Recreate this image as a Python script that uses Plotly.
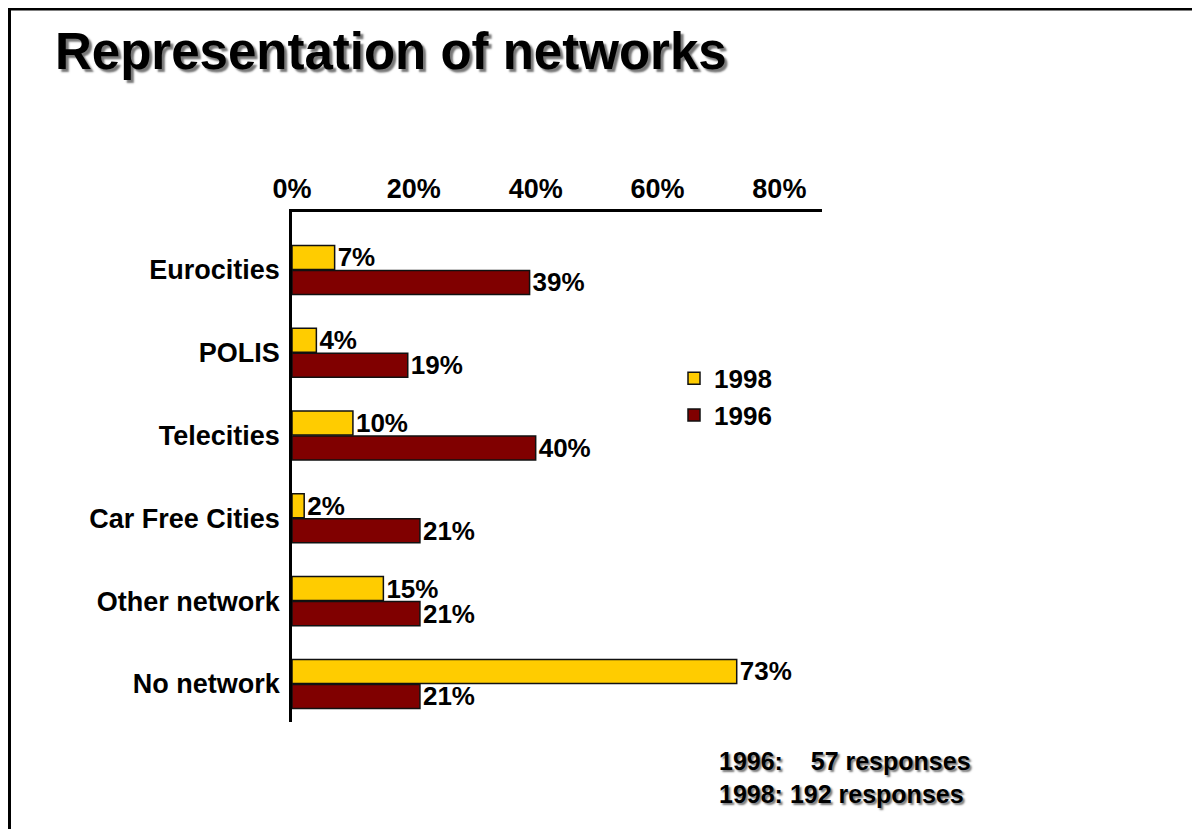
import plotly.graph_objects as go

categories = ["Eurocities", "POLIS", "Telecities", "Car Free Cities", "Other network", "No network"]
values_1998 = [0.07, 0.04, 0.10, 0.02, 0.15, 0.73]
values_1996 = [0.39, 0.19, 0.40, 0.21, 0.21, 0.21]
series_names = ["1998", "1996"]
x_ticks = [0, 0.2, 0.4, 0.6, 0.8]
title_text = "Representation of networks"
note_lines = ["1996:\u00a0\u00a0\u00a0 57 responses", "1998: 192 responses"]

FONT = "Liberation Sans, Arial, sans-serif"
YELLOW = "#FFCC00"
DARKRED = "#800000"

fig = go.Figure()
for name, vals, col in [(series_names[0], values_1998, YELLOW), (series_names[1], values_1996, DARKRED)]:
    fig.add_trace(go.Bar(
        name=name, y=categories, x=vals, orientation="h",
        marker=dict(color=col, line=dict(color="#111111", width=1.5)),
        text=[f"{v*100:.0f}%" for v in vals], textposition="outside",
        constraintext="none",
        textfont=dict(family=FONT, size=26, color="black", weight="bold"),
        cliponaxis=False,
    ))

W, H = 1192, 821
fig.update_layout(
    width=W, height=H,
    paper_bgcolor="white", plot_bgcolor="white",
    margin=dict(l=284, r=W - 284 - 530, t=204, b=H - 204 - 510, autoexpand=False),
    barmode="group", bargap=0.396, bargroupgap=0.04,
    font=dict(family=FONT, color="black"),
    title=dict(text="<b>" + title_text + "</b>", xref="container", yref="container",
               x=47/W, xanchor="left", y=1 - 25/H, yanchor="top",
               font=dict(family=FONT, size=51, color="black", shadow="3px 3px 2px #777")),
    xaxis=dict(side="top", range=[0, 0.87], tickvals=x_ticks, tickformat=".0%",
               showgrid=False, zeroline=False, showline=True, linecolor="black", linewidth=2.5,
               ticks="", tickfont=dict(family=FONT, size=27, color="black", weight="bold")),
    yaxis=dict(type="category", categoryorder="array", categoryarray=categories,
               range=[5.46, -0.70], showgrid=False, zeroline=False, showline=True,
               linecolor="black", linewidth=2.5, ticks="", ticklabelstandoff=4,
               tickfont=dict(family=FONT, size=27, color="black", weight="bold")),
    legend=dict(x=(674 - 292) / 530, y=0.72, xanchor="left", yanchor="top", bgcolor="rgba(0,0,0,0)",
                font=dict(family=FONT, size=26, color="black", weight="bold"),
                tracegroupgap=0, itemwidth=30),
    showlegend=True,
)

fig.add_annotation(xref="paper", yref="paper", x=(717 - 292) / 530, y=(722 - 745) / 510,
                   xanchor="left", yanchor="top", align="left", showarrow=False,
                   text="<br>".join(note_lines),
                   font=dict(family=FONT, size=25, color="black", weight="bold", shadow="2px 2px 2px #777"))

# slide frame (top and left edges)
fig.add_shape(type="line", xref="paper", yref="paper", x0=(8 - 292) / 530, x1=(1210 - 292) / 530,
              y0=(722 - 9) / 510, y1=(722 - 9) / 510, line=dict(color="black", width=3))
fig.add_shape(type="line", xref="paper", yref="paper", x0=(9.5 - 292) / 530, x1=(9.5 - 292) / 530,
              y0=(722 - 8) / 510, y1=(722 - 840) / 510, line=dict(color="black", width=3))

fig.write_html("out.html")
